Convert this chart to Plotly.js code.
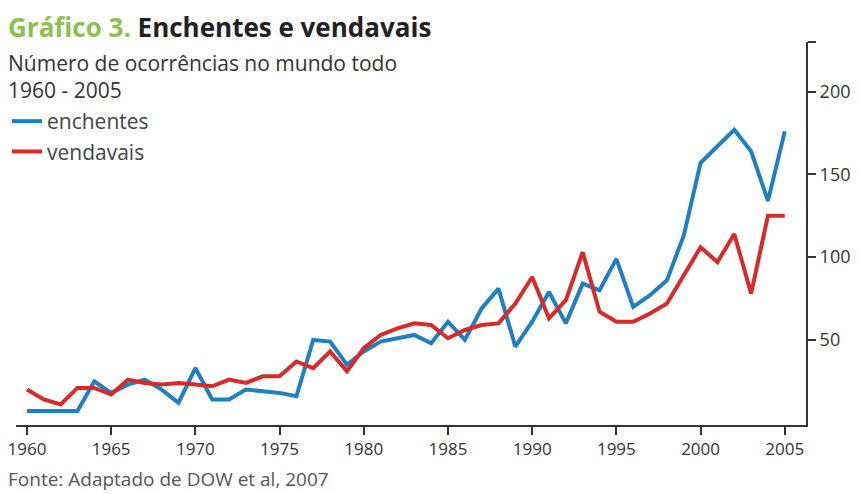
<!DOCTYPE html>
<html>
<head>
<meta charset="utf-8">
<script src="https://cdn.plot.ly/plotly-3.0.1.min.js"></script>
<style>html,body{margin:0;padding:0;background:#fff}#chart{width:860px;height:494px}</style>
</head>
<body>
<div id="chart"></div>
<script>
const years = [1960,1961,1962,1963,1964,1965,1966,1967,1968,1969,1970,1971,1972,1973,1974,1975,1976,1977,1978,1979,1980,1981,1982,1983,1984,1985,1986,1987,1988,1989,1990,1991,1992,1993,1994,1995,1996,1997,1998,1999,2000,2001,2002,2003,2004,2005];
const enchentes = [7,7,7,7,25,18,23,26,20,12,33,14,14,20,19,18,16,50,49,35,43,49,51,53,48,61,50,69,81,46,61,79,60,84,80,99,70,77,86,113,157,167,177,164,134,176];
const vendavais = [20,14,11,21,21,17,26,24,23,24,23,22,26,24,28,28,37,33,43,31,45,53,57,60,59,51,56,59,60,72,88,63,74,103,67,61,61,66,72,89,106,97,114,78,125,125];
const xTicks = [1960,1965,1970,1975,1980,1985,1990,1995,2000,2005];
const yTicks = [50,100,150,200,230];
const yTickText = ['50','100','150','200',''];

const FONT = 'Open Sans, sans-serif';
const PLOT_TOP = 42, PLOT_BOTTOM = 425, PLOT_LEFT = 16, PLOT_W = 790;
const py = px => (PLOT_BOTTOM - px) / (PLOT_BOTTOM - PLOT_TOP);
const pxX = px => (px - PLOT_LEFT) / PLOT_W;

const traces = [
  {x: years, y: enchentes, name: 'enchentes', legendgroup: 'a', type: 'scatter', mode: 'lines',
   line: {color: '#1f7fc3', width: 4}},
  {x: years, y: vendavais, name: 'vendavais', legendgroup: 'b', type: 'scatter', mode: 'lines',
   line: {color: '#d92a2a', width: 4}}
];
const layout = {
  width: 860, height: 494,
  margin: {l: PLOT_LEFT, r: 860 - PLOT_LEFT - PLOT_W, t: PLOT_TOP, b: 494 - PLOT_BOTTOM, autoexpand: false},
  paper_bgcolor: '#fff', plot_bgcolor: '#fff',
  font: {family: FONT, color: '#333', size: 17},
  title: {
    text: '<span style="color:#8cc152">Gráfico 3.</span> Enchentes e vendavais',
    font: {family: FONT, size: 26, weight: 'bold', color: '#222'},
    x: 8/860, xanchor: 'left', xref: 'container',
    y: 1 - 28/494, yanchor: 'middle', yref: 'container'
  },
  xaxis: {
    range: [1959.35, 2006.26], tickvals: xTicks, ticks: 'outside', ticklen: 8, tickwidth: 2,
    tickcolor: '#333', showline: true, linecolor: '#333', linewidth: 2,
    showgrid: false, zeroline: false, tickfont: {size: 17, color: '#333'}
  },
  yaxis: {
    side: 'right', range: [-1.4, 230], tickvals: yTicks, ticktext: yTickText,
    ticks: 'outside', ticklen: 8, tickwidth: 2, tickcolor: '#333',
    showline: true, linecolor: '#333', linewidth: 2, showgrid: false, zeroline: false,
    tickfont: {size: 18, color: '#333'}
  },
  showlegend: true,
  legend: {x: pxX(7), y: py(101), xanchor: 'left', yanchor: 'top', bgcolor: 'rgba(0,0,0,0)',
    font: {size: 21, color: '#444'}, itemwidth: 30, tracegroupgap: 0},
  annotations: [
    {text: 'Número de ocorrências no mundo todo<br>1960 - 2005', xref: 'paper', yref: 'paper',
     x: pxX(6), y: py(76), xanchor: 'left', yanchor: 'middle', align: 'left', showarrow: false,
     font: {size: 21, color: '#333'}},
    {text: 'Fonte: Adaptado de DOW et al, 2007', xref: 'paper', yref: 'paper',
     x: pxX(6), y: py(479), xanchor: 'left', yanchor: 'middle', align: 'left', showarrow: false,
     font: {size: 19, color: '#555'}}
  ]
};
Plotly.newPlot('chart', traces, layout, {displayModeBar: false, staticPlot: true});
</script>
</body>
</html>
